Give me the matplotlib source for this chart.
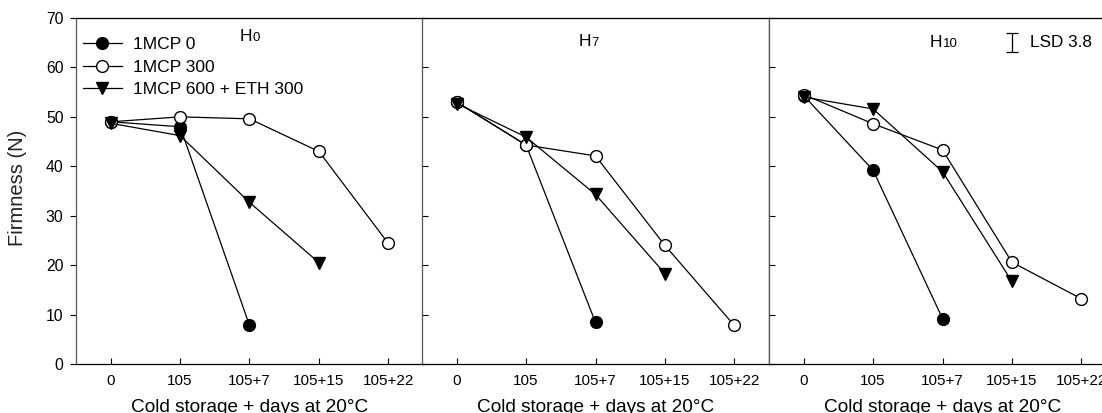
import matplotlib
matplotlib.use("Agg")
import matplotlib.pyplot as plt

plt.rcParams['font.family'] = ['Liberation Sans', 'DejaVu Sans']

x_labels = ["0", "105", "105+7", "105+15", "105+22"]
panels = ["H0", "H7", "H10"]
series_names = ["1MCP 0", "1MCP 300", "1MCP 600 + ETH 300"]

# H0
h0_mcp0 = [49.0, 48.0, 7.8]
h0_mcp300 = [49.0, 50.0, 49.6, 43.0, 24.4]
h0_mcp600 = [48.7, 46.2, 32.7, 20.5]
# H7
h7_mcp0 = [53.0, 44.3, 8.4]
h7_mcp300 = [53.0, 44.3, 42.1, 24.0, 7.8]
h7_mcp600 = [52.7, 45.9, 34.3, 18.3]
# H10
h10_mcp0 = [54.3, 39.2, 9.2]
h10_mcp300 = [54.5, 48.6, 43.3, 20.6, 13.2]
h10_mcp600 = [54.0, 51.6, 38.9, 16.7]

lsd_value = 3.8

data = [
    (h0_mcp0, h0_mcp300, h0_mcp600),
    (h7_mcp0, h7_mcp300, h7_mcp600),
    (h10_mcp0, h10_mcp300, h10_mcp600),
]

W, H = 1102, 413
fig = plt.figure(figsize=(W / 100, H / 100), dpi=100)

lefts = [76, 422, 769]
width_px = 347
bottom_px, top_px = 364, 18
ah = bottom_px - top_px

styles = [
    dict(marker='o', mfc='black', mec='black', ms=8.5),
    dict(marker='o', mfc='white', mec='black', ms=8.5),
    dict(marker='v', mfc='black', mec='black', ms=9),
]

title_pos = [(1.86, 65.4), (1.76, 64.4), (1.82, 64.2)]

for i, (left, pname, series) in enumerate(zip(lefts, panels, data)):
    ax = fig.add_axes([left / W, 1 - bottom_px / H, width_px / W, ah / H])
    for j, (vals, st, name) in enumerate(zip(series, styles, series_names)):
        xs = list(range(len(vals)))
        ax.plot(xs, vals, color='black', lw=0.9, label=name, zorder=3 + j, **st)
    ax.set_xlim(-0.5, 4.5)
    ax.set_ylim(0, 70)
    ax.set_xticks(range(len(x_labels)))
    ax.set_xticklabels(x_labels)
    ax.set_yticks(range(0, 71, 10))
    ax.tick_params(axis='x', direction='in', length=4, pad=7, labelsize=11)
    if i == 0:
        ax.tick_params(axis='y', direction='out', length=4, pad=5, labelsize=11.3)
    else:
        ax.tick_params(axis='y', direction='in', length=4, labelleft=False)
    for sp in ax.spines.values():
        sp.set_linewidth(0.9)
    ax.spines['left'].set_color('#555555')
    ax.text(0.5, (bottom_px - 412.5) / ah, "Cold storage + days at 20°C",
            transform=ax.transAxes, ha='center', va='baseline', fontsize=13.7)
    # panel title: H with smaller digit on baseline
    tx, ty = title_pos[i]
    th = ax.text(tx, ty, pname[0], fontsize=12.5, ha='left', va='baseline')
    ax.annotate(pname[1:], xy=(1, ty), xycoords=(th, 'data'), fontsize=9.5,
                ha='left', va='baseline')
    if i == 0:
        ax.legend(loc='upper left', bbox_to_anchor=(7 / width_px, 1 - 19 / ah),
                  frameon=False, fontsize=12.6, handlelength=2.2, handletextpad=0.65,
                  labelspacing=0.42, borderaxespad=0, borderpad=0)
    if i == 2:
        ax.errorbar([3.0], [65.0], yerr=[lsd_value / 2], fmt='none', ecolor='black',
                    elinewidth=0.9, capsize=4.3, capthick=0.9)
        ax.text(3.26, 65.0, "LSD " + str(lsd_value), fontsize=12.3, ha='left', va='center')

fig.text(18 / W, 1 - 188 / H, "Firmness (N)", rotation=90, ha='center', va='center',
         fontsize=14.5, color='#222222')

fig.savefig("out.png", dpi=100)
